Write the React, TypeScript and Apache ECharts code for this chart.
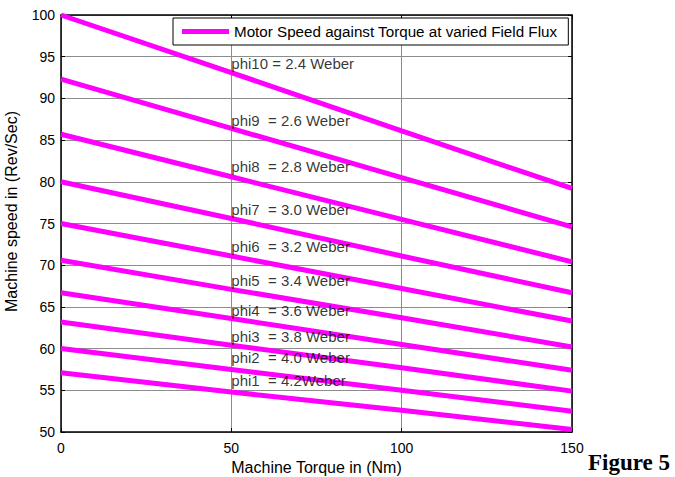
import React, { useEffect, useRef } from "react";
import * as echarts from "echarts";

// Torque points (Nm) at which each speed curve is sampled
const torque = [0, 50, 100, 150];

// Machine speed (Rev/Sec) for each field flux, phi10 (weakest) to phi1 (strongest)
const speedPhi10 = [100, 93.1, 86.1, 79.2];
const speedPhi9 = [92.3, 86.4, 80.5, 74.6];
const speedPhi8 = [85.7, 80.6, 75.5, 70.4];
const speedPhi7 = [80.0, 75.6, 71.1, 66.7];
const speedPhi6 = [75.0, 71.1, 67.2, 63.3];
const speedPhi5 = [70.6, 67.1, 63.7, 60.2];
const speedPhi4 = [66.7, 63.6, 60.5, 57.4];
const speedPhi3 = [63.2, 60.4, 57.7, 54.9];
const speedPhi2 = [60.0, 57.5, 55.0, 52.5];
const speedPhi1 = [57.1, 54.8, 52.6, 50.3];

const curves = [
  speedPhi10, speedPhi9, speedPhi8, speedPhi7, speedPhi6,
  speedPhi5, speedPhi4, speedPhi3, speedPhi2, speedPhi1,
];

// Annotation texts and their anchor positions in data space (torque, speed)
const fluxLabels = [
  "phi10 = 2.4 Weber",
  "phi9  = 2.6 Weber",
  "phi8  = 2.8 Weber",
  "phi7  = 3.0 Weber",
  "phi6  = 3.2 Weber",
  "phi5  = 3.4 Weber",
  "phi4  = 3.6 Weber",
  "phi3  = 3.8 Weber",
  "phi2  = 4.0 Weber",
  "phi1  = 4.2Weber",
];
const labelTorque = [50, 50, 50, 50, 50, 50, 50, 50, 50, 50];
const labelSpeed = [94.2, 87.4, 81.8, 76.7, 72.2, 68.2, 64.6, 61.5, 58.9, 56.2];

const seriesName = "Motor Speed against Torque at varied Field Flux";
const FONT = "'Liberation Sans', Arial, sans-serif";

export default function App() {
  const ref = useRef<HTMLDivElement>(null);

  useEffect(() => {
    if (!ref.current) return;
    const chart = echarts.init(ref.current, null, { renderer: "svg" });

    const lineSeries = curves.map((vals) => ({
      name: seriesName,
      type: "line",
      data: torque.map((t, i) => [t, vals[i]]),
      showSymbol: false,
      symbol: "none",
      lineStyle: { color: "#ff00ff", width: 5 },
      itemStyle: { color: "#ff00ff" },
      silent: true,
      z: 3,
    }));

    const labelSeries = {
      name: "labels",
      type: "scatter",
      symbolSize: 0,
      data: fluxLabels.map((txt, i) => ({
        value: [labelTorque[i], labelSpeed[i]],
        name: txt,
      })),
      label: {
        show: true,
        position: "right",
        distance: 0,
        formatter: (p: any) => p.name,
        color: "#000",
        fontFamily: FONT,
        fontSize: 15,
      },
      silent: true,
      z: 4,
    };

    const axisText = { color: "#000", fontFamily: FONT, fontSize: 14 };
    const frameLine = { show: true, onZero: false, lineStyle: { color: "#000", width: 1.5 } };
    const innerTick = { show: true, inside: true, length: 4, lineStyle: { color: "#000" } };
    const grid = { show: true, lineStyle: { color: "#8c8c8c", width: 1 } };

    chart.setOption({
      animation: false,
      backgroundColor: "#fff",
      grid: {
        left: 61,
        right: 103,
        top: 15,
        bottom: 45,
        containLabel: false,
        outerBoundsMode: "none",
      },
      legend: {
        data: [seriesName],
        left: 173,
        top: 18,
        padding: [6, 11, 6, 9],
        itemWidth: 47,
        itemHeight: 5,
        icon: "rect",
        borderColor: "#000",
        borderWidth: 1,
        backgroundColor: "#fff",
        textStyle: { color: "#000", fontFamily: FONT, fontSize: 15.2 },
        selectedMode: false,
        z: 10,
      },
      xAxis: [
        {
          type: "value",
          min: 0,
          max: 150,
          interval: 50,
          name: "Machine Torque in (Nm)",
          nameLocation: "middle",
          nameGap: 22,
          nameTextStyle: { ...axisText, fontSize: 16 },
          axisLine: frameLine,
          axisTick: innerTick,
          axisLabel: { ...axisText, margin: 9 },
          splitLine: grid,
        },
        {
          type: "value",
          position: "top",
          min: 0,
          max: 150,
          interval: 50,
          axisLine: frameLine,
          axisTick: innerTick,
          axisLabel: { show: false },
          splitLine: { show: false },
        },
      ],
      yAxis: [
        {
          type: "value",
          min: 50,
          max: 100,
          interval: 5,
          name: "Machine speed in (Rev/Sec)",
          nameLocation: "middle",
          nameGap: 42,
          nameTextStyle: { ...axisText, fontSize: 16, padding: [0, 0, 0, 24] },
          axisLine: frameLine,
          axisTick: innerTick,
          axisLabel: { ...axisText, margin: 6 },
          splitLine: grid,
        },
        {
          type: "value",
          position: "right",
          min: 50,
          max: 100,
          interval: 5,
          axisLine: frameLine,
          axisTick: innerTick,
          axisLabel: { show: false },
          splitLine: { show: false },
        },
      ],
      graphic: [
        {
          type: "text",
          left: 588,
          top: 451,
          style: {
            text: "Figure 5",
            fill: "#000",
            font: "bold 23px 'Liberation Serif', 'Times New Roman', serif",
          },
        },
      ],
      series: [...lineSeries, labelSeries],
    });

    return () => chart.dispose();
  }, []);

  return <div ref={ref} style={{ width: 675, height: 477, position: "absolute", left: 0, top: 0 }} />;
}
